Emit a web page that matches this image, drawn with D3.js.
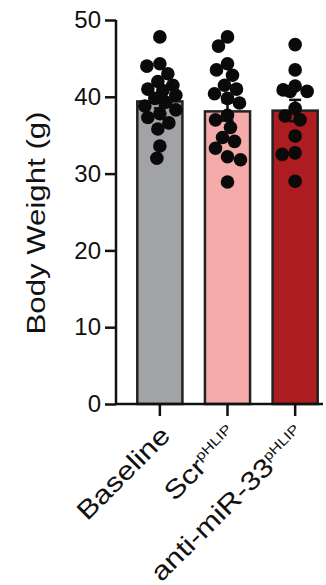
<!DOCTYPE html>
<html lang="en">
<head>
  <meta charset="UTF-8">
  <title>Body Weight</title>
  <script src="https://d3js.org/d3.v7.min.js"></script>
  <style>
    body { margin: 0; background: #fff; }
    text { font-family: "Liberation Sans", Arial, sans-serif; }
  </style>
</head>
<body>
  <svg width="326" height="585"></svg>
<script>
// groups and values
var groups = ["Baseline", "Scr", "anti-miR-33"];
var supers = ["", "pHLIP", "pHLIP"];
var means = [39.4, 38.1, 38.2];
var sems = [0.9, 1.2, 1.4];
var yTicks = [0, 10, 20, 30, 40, 50];

var baseline = [47.8, 44.3, 44.0, 43.0, 42.0, 41.5, 41.0, 40.8, 40.2, 39.8,
                39.3, 38.8, 38.3, 37.8, 37.3, 36.6, 35.8, 33.6, 32.0];
var scr = [47.8, 46.6, 44.3, 43.5, 42.8, 41.5, 41.0, 40.4, 39.8, 39.2,
           37.6, 37.0, 36.0, 34.7, 34.2, 33.3, 32.2, 31.8, 28.9];
var anti = [46.8, 43.5, 41.4, 40.9, 40.7, 40.7, 38.5, 37.5, 37.0, 34.9,
            32.7, 32.5, 29.0];
var points = [baseline, scr, anti];

var colors = ["#a1a3a7", "#f6abab", "#ad1c21"];

var svg = d3.select("svg");

var x = d3.scaleBand().domain(groups).range([117, 338]).paddingInner(0.333).paddingOuter(0.3);
var y = d3.scaleLinear().domain([0, 50]).range([404, 20]);

// y axis
var yAxis = svg.append("g")
  .attr("transform", "translate(116,0)")
  .call(d3.axisLeft(y).tickValues(yTicks).tickSize(11).tickPadding(4));
yAxis.select(".domain").attr("stroke", "#111").attr("stroke-width", 2.5)
  .attr("d", "M0," + y(50) + "V" + y(0));
yAxis.selectAll(".tick line").attr("stroke", "#111").attr("stroke-width", 2.5);
yAxis.selectAll(".tick text").attr("font-size", "24px").attr("fill", "#111")
  .attr("font-family", "Liberation Sans, Arial, sans-serif");

// the lettering in the figure is a bit wider than plain Arial
var stretch = 1.2;

svg.append("text")
  .attr("transform", "translate(45,223) rotate(-90) scale(" + stretch + ",1)")
  .attr("text-anchor", "middle")
  .attr("font-size", "26px")
  .attr("fill", "#111")
  .text("Body Weight (g)");

// bars
svg.selectAll("rect.bar")
  .data(groups)
  .enter().append("rect")
  .attr("class", "bar")
  .attr("x", function(d) { return x(d); })
  .attr("width", x.bandwidth())
  .attr("y", function(d, i) { return y(means[i]); })
  .attr("height", function(d, i) { return y(0) - y(means[i]); })
  .attr("fill", function(d, i) { return colors[i]; })
  .attr("stroke", "#222")
  .attr("stroke-width", 2.5);

// error bars
groups.forEach(function(g, i) {
  var cx = x(g) + x.bandwidth() / 2;
  var e = svg.append("g").attr("stroke", "#111").attr("stroke-width", 2.5);
  e.append("line").attr("x1", cx).attr("x2", cx)
    .attr("y1", y(means[i] - sems[i])).attr("y2", y(means[i] + sems[i]));
  e.append("line").attr("x1", cx - 6).attr("x2", cx + 6)
    .attr("y1", y(means[i] + sems[i])).attr("y2", y(means[i] + sems[i]));
  e.append("line").attr("x1", cx - 6).attr("x2", cx + 6)
    .attr("y1", y(means[i] - sems[i])).attr("y2", y(means[i] - sems[i]));
});

// simple swarm so dots spread sideways like the original
function swarm(vals, cx) {
  var placed = [];
  var sep = 12.5, maxOff = 16;
  vals.forEach(function(v) {
    var py = y(v), best = null, fallback = cx, fallbackD = -1;
    for (var k = 0; k <= maxOff && best === null; k++) {
      var cands = k === 0 ? [0] : [-k, k];
      for (var c = 0; c < cands.length; c++) {
        var px = cx + cands[c];
        var dmin = placed.length ? d3.min(placed, function(p) { return Math.hypot(p[0] - px, p[1] - py); }) : 99;
        if (dmin >= sep) { best = px; break; }
        if (dmin > fallbackD) { fallbackD = dmin; fallback = px; }
      }
    }
    placed.push([best === null ? fallback : best, py]);
  });
  return placed;
}

groups.forEach(function(g, i) {
  var cx = x(g) + x.bandwidth() / 2;
  svg.append("g").selectAll("circle")
    .data(swarm(points[i], cx))
    .enter().append("circle")
    .attr("cx", function(d) { return d[0]; })
    .attr("cy", function(d) { return d[1]; })
    .attr("r", 6.8)
    .attr("fill", "#0a0a0a");
});

// x axis
var xAxis = svg.append("g")
  .attr("transform", "translate(0," + y(0) + ")")
  .call(d3.axisBottom(x).tickSize(12).tickFormat(""));
xAxis.select(".domain").attr("stroke", "#111").attr("stroke-width", 2.5)
  .attr("d", "M115,0H323");
xAxis.selectAll(".tick line").attr("stroke", "#111").attr("stroke-width", 2.5);

groups.forEach(function(g, i) {
  var cx = x(g) + x.bandwidth() / 2;
  var t = svg.append("text")
    .attr("transform", "translate(" + (cx + 12) + ",437) rotate(-45) scale(" + stretch + ",1)")
    .attr("text-anchor", "end")
    .attr("font-size", "26px")
    .attr("fill", "#111");
  t.append("tspan").text(g);
  if (supers[i]) {
    t.append("tspan").attr("font-size", "13.5px").attr("dy", "-10").text(supers[i]);
  }
});
</script>
</body>
</html>
